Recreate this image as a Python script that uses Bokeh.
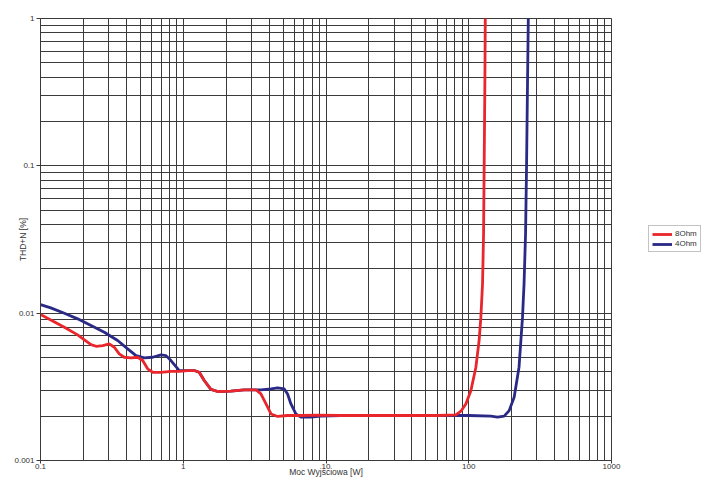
from bokeh.plotting import figure
from bokeh.models import FixedTicker, Legend, LegendItem, CustomJSTickFormatter
from bokeh.embed import file_html
from bokeh.resources import INLINE

# values (log-log)
p8_x = [0.1, 0.118, 0.147, 0.182, 0.203, 0.226, 0.245, 0.273, 0.303, 0.329, 0.356, 0.386,
        0.43, 0.479, 0.52, 0.563, 0.611, 0.698, 0.82, 0.938, 1.074, 1.194, 1.294, 1.403,
        1.563, 1.741, 2.158, 2.674, 3.228, 3.5, 3.8, 4.12, 4.58, 5.38, 6.67, 8.74, 12.7,
        30.0, 60.0, 81.2, 88.1, 95.4, 103.5, 112.2, 118.2, 121.6, 124.9, 127.0, 128.2,
        129.7, 130.6]
p8_y = [0.0098, 0.009, 0.00802, 0.00712, 0.00659, 0.00612, 0.00596, 0.00603, 0.00619,
        0.00587, 0.00529, 0.00502, 0.00497, 0.00502, 0.00477, 0.00419, 0.00397, 0.00397,
        0.00403, 0.00403, 0.00408, 0.00408, 0.00397, 0.00349, 0.00304, 0.00294, 0.00296,
        0.00302, 0.00302, 0.00283, 0.00242, 0.00207, 0.00199, 0.00202, 0.00202, 0.00203,
        0.00202, 0.00202, 0.00202, 0.00204, 0.00216, 0.00242, 0.00298, 0.0043, 0.00652,
        0.0094, 0.0158, 0.0345, 0.0978, 0.36, 1.05]

p4_x = [0.1, 0.118, 0.147, 0.182, 0.226, 0.28, 0.347, 0.408, 0.467, 0.533, 0.611, 0.698,
        0.757, 0.82, 0.889, 0.938, 1.074, 1.194, 1.294, 1.403, 1.563, 1.741, 2.158, 2.674,
        3.228, 3.5, 4.12, 4.58, 5.1, 5.38, 5.68, 6.15, 6.67, 7.84, 9.21, 12.7, 40.0,
        100.0, 142.8, 159.0, 177.0, 191.9, 208.0, 225.0, 238.0, 244.0, 250.0, 254.0,
        258.0, 261.5]
p4_y = [0.01144, 0.01086, 0.00998, 0.00915, 0.00824, 0.00742, 0.00652, 0.00572, 0.00515,
        0.00497, 0.00502, 0.00521, 0.00515, 0.00477, 0.00434, 0.00408, 0.00408, 0.00408,
        0.00397, 0.00349, 0.00304, 0.00294, 0.00296, 0.00302, 0.00302, 0.00302, 0.00306,
        0.00311, 0.00306, 0.00283, 0.00242, 0.00207, 0.00197, 0.00197, 0.002, 0.00202,
        0.00202, 0.00202, 0.002, 0.00197, 0.002, 0.00218, 0.00269, 0.0043, 0.0094,
        0.0158, 0.0345, 0.098, 0.36, 1.05]

x_ticks = [0.1, 1, 10, 100, 1000]
x_labels = ["0.1", "1", "10", "100", "1000"]
y_ticks = [0.001, 0.01, 0.1, 1]
y_labels = ["0.001", "0.01", "0.1", "1"]
mults = [2, 3, 4, 5, 6, 7, 8, 9]

grid_col = "#3a3a3a"
txt_col = "#333333"
font = "Liberation Sans"

p = figure(frame_width=571, frame_height=442, x_axis_type="log", y_axis_type="log",
           x_range=(0.1, 1000), y_range=(0.001, 1),
           output_backend="svg", toolbar_location=None,
           min_border_left=40, min_border_right=94, min_border_top=18, min_border_bottom=26,
           x_axis_label="Moc Wyjściowa [W]", y_axis_label="THD+N [%]")

fmt_code = """
const i = tv.findIndex(t => Math.abs(t - tick) <= 1e-9 * t);
return i >= 0 ? tl[i] : "";
"""
p.xaxis.ticker = FixedTicker(ticks=x_ticks,
                             minor_ticks=[d * m for d in x_ticks[:-1] for m in mults])
p.yaxis.ticker = FixedTicker(ticks=y_ticks,
                             minor_ticks=[d * m for d in y_ticks[:-1] for m in mults])
p.xaxis.formatter = CustomJSTickFormatter(args=dict(tv=x_ticks, tl=x_labels), code=fmt_code)
p.yaxis.formatter = CustomJSTickFormatter(args=dict(tv=y_ticks, tl=y_labels), code=fmt_code)

for ax in (p.xaxis, p.yaxis):
    ax.major_label_text_font = font
    ax.major_label_text_font_size = "8px"
    ax.major_label_text_color = txt_col
    ax.axis_label_text_font = font
    ax.axis_label_text_font_size = "8.5px"
    ax.axis_label_text_font_style = "normal"
    ax.axis_label_text_color = txt_col
    ax.axis_line_color = grid_col
    ax.major_tick_line_color = grid_col
    ax.major_tick_in = 0
    ax.minor_tick_in = 0
    ax.minor_tick_out = 0

p.xaxis.major_tick_out = 3
p.xaxis.major_label_standoff = 0
p.xaxis.axis_label_standoff = -5
p.yaxis.major_tick_out = 4
p.yaxis.major_label_standoff = 2
p.yaxis.axis_label_standoff = -17

p.grid.grid_line_color = grid_col
p.grid.grid_line_width = 1
p.grid.minor_grid_line_color = grid_col
p.grid.minor_grid_line_width = 1
p.outline_line_color = grid_col

r4 = p.line(p4_x, p4_y, line_color="#2a2a86", line_width=2.8, line_join="round")
r8 = p.line(p8_x, p8_y, line_color="#e8262b", line_width=2.8, line_join="round")

legend = Legend(items=[LegendItem(label="8Ohm", renderers=[r8]),
                       LegendItem(label="4Ohm", renderers=[r4])],
                location=(37, 208), border_line_color="#888888",
                label_text_font=font, label_text_font_size="8px", label_text_color=txt_col,
                glyph_width=20, glyph_height=8, label_height=9, label_standoff=3,
                spacing=1, padding=3, margin=0)
p.add_layout(legend, "right")

open("out.html", "w").write(file_html(p, INLINE))
